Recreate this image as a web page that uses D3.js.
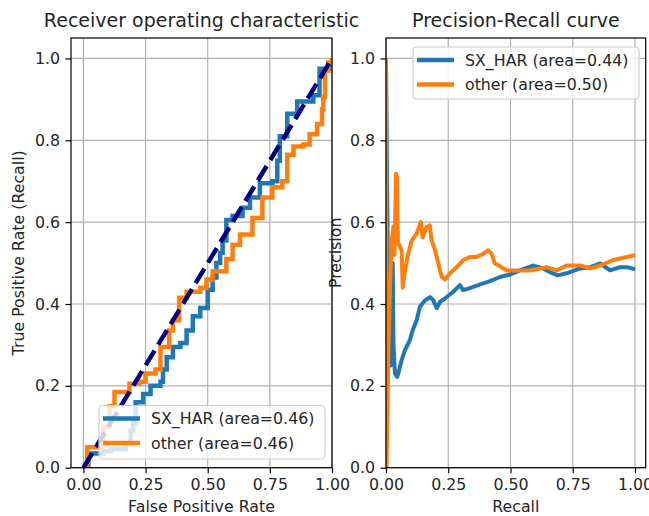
<!DOCTYPE html>
<html><head><meta charset="utf-8">
<script src="https://cdn.jsdelivr.net/npm/d3@7"></script>
<style>
html,body{margin:0;padding:0;background:#fff;}
svg text{font-family:"DejaVu Sans",sans-serif;fill:#262626;}
</style></head>
<body>
<svg id="chart" width="649" height="516"></svg>
<script>
// ---------- data ----------
const xTicks = [0, 0.25, 0.5, 0.75, 1.0];
const yTicks = [0, 0.2, 0.4, 0.6, 0.8, 1.0];
const seriesNames = ["SX_HAR", "other"];
const rocAreas = [0.46, 0.46];
const prAreas = [0.44, 0.50];

// ROC SX_HAR (fpr, tpr)
const rocSxFpr = [0,0.02,0.08,0.11,0.17,0.19,0.20,0.21,0.24,0.27,0.31,0.32,0.335,0.36,0.39,0.415,0.44,0.47,0.50,0.52,0.535,0.55,0.56,0.575,0.60,0.64,0.67,0.71,0.76,0.78,0.79,0.82,0.86,0.925,0.95,0.99,1.0];
const rocSxTpr = [0,0.035,0.04,0.045,0.06,0.09,0.11,0.16,0.18,0.20,0.21,0.24,0.27,0.295,0.305,0.335,0.37,0.39,0.435,0.465,0.50,0.525,0.555,0.605,0.615,0.635,0.66,0.695,0.70,0.75,0.81,0.865,0.895,0.91,0.975,0.985,1.0];
// ROC other
const rocOtFpr = [0,0.015,0.05,0.08,0.105,0.125,0.17,0.185,0.225,0.25,0.29,0.31,0.345,0.36,0.385,0.415,0.47,0.495,0.52,0.575,0.60,0.63,0.68,0.72,0.76,0.80,0.82,0.845,0.885,0.91,0.94,0.96,0.965,0.972,0.985,1.0];
const rocOtTpr = [0,0.05,0.05,0.10,0.15,0.185,0.185,0.205,0.21,0.23,0.24,0.295,0.335,0.36,0.415,0.43,0.44,0.46,0.48,0.51,0.545,0.57,0.61,0.66,0.685,0.70,0.765,0.785,0.79,0.815,0.84,0.875,0.905,0.97,0.99,1.0];
// chance line
const chanceX = [0, 1];
const chanceY = [0, 1];

// PR SX_HAR (recall, precision)
const prSxRec = [0,0.01,0.014,0.02,0.025,0.027,0.03,0.036,0.045,0.05,0.063,0.076,0.096,0.107,0.123,0.136,0.157,0.177,0.19,0.204,0.217,0.244,0.27,0.297,0.31,0.337,0.378,0.418,0.458,0.498,0.538,0.59,0.63,0.658,0.69,0.725,0.78,0.82,0.86,0.9,0.94,0.967,1.0];
const prSxPre = [1,0.33,0.26,0.25,0.28,0.50,0.30,0.23,0.222,0.232,0.263,0.287,0.312,0.336,0.36,0.393,0.409,0.417,0.409,0.39,0.405,0.417,0.43,0.446,0.434,0.439,0.448,0.456,0.466,0.472,0.482,0.494,0.487,0.478,0.47,0.475,0.487,0.49,0.499,0.482,0.49,0.49,0.485];
// PR other
const prOtRec = [0,0.002,0.01,0.016,0.022,0.03,0.034,0.04,0.044,0.048,0.056,0.063,0.067,0.076,0.088,0.103,0.123,0.14,0.147,0.163,0.176,0.183,0.197,0.21,0.224,0.237,0.257,0.284,0.31,0.337,0.364,0.39,0.41,0.424,0.437,0.458,0.485,0.51,0.578,0.645,0.685,0.725,0.78,0.82,0.86,0.91,0.967,1.0];
const prOtPre = [1,0,0.30,0.43,0.55,0.59,0.52,0.718,0.71,0.55,0.54,0.53,0.44,0.48,0.52,0.555,0.572,0.60,0.563,0.588,0.592,0.556,0.531,0.499,0.466,0.46,0.475,0.49,0.507,0.515,0.515,0.523,0.531,0.523,0.499,0.492,0.482,0.482,0.482,0.49,0.482,0.494,0.494,0.487,0.494,0.507,0.515,0.519];

const colors = ["#1f77b4", "#ff7f0e"];

// ---------- layout ----------
const svg = d3.select("#chart");
const fs = 15.8;
const panels = [
  {x0:71, x1:332, xdom:[-0.05,1.0], title:"Receiver operating characteristic", xlabel:"False Positive Rate", ylabel:"True Positive Rate (Recall)", ylabelX:24},
  {x0:386, x1:645.7, xdom:[0,1.043], title:"Precision-Recall curve", xlabel:"Recall", ylabel:"Precision", ylabelX:341}
];
const yTop = 38, yBot = 467.7;

function makePanel(p, idx){
  const g = svg.append("g");
  const x = d3.scaleLinear().domain(p.xdom).range([p.x0, p.x1]);
  const y = d3.scaleLinear().domain([0,1.05]).range([yBot, yTop]);
  // grid
  g.append("g").selectAll("line").data(xTicks).join("line")
    .attr("x1",d=>x(d)).attr("x2",d=>x(d)).attr("y1",yTop).attr("y2",yBot)
    .attr("stroke","#b0b0b0").attr("stroke-width",1.2);
  g.append("g").selectAll("line").data(yTicks).join("line")
    .attr("y1",d=>y(d)).attr("y2",d=>y(d)).attr("x1",p.x0).attr("x2",p.x1)
    .attr("stroke","#b0b0b0").attr("stroke-width",1.2);
  // axes
  const xa = g.append("g").attr("transform",`translate(0,${yBot})`)
    .call(d3.axisBottom(x).tickValues(xTicks).tickFormat(d3.format(".2f")).tickSize(5.5).tickPadding(5.5));
  const ya = g.append("g").attr("transform",`translate(${p.x0},0)`)
    .call(d3.axisLeft(y).tickValues(yTicks).tickFormat(d3.format(".1f")).tickSize(5.5).tickPadding(5.5));
  [xa,ya].forEach(a=>{
    a.select(".domain").remove();
    a.selectAll("line").attr("stroke","#000").attr("stroke-width",1.2);
    a.selectAll("text").attr("font-size",fs).attr("font-family","DejaVu Sans").attr("fill","#262626");
  });
  // clip
  const cid = "clip"+idx;
  svg.append("clipPath").attr("id",cid).append("rect")
    .attr("x",p.x0).attr("y",yTop).attr("width",p.x1-p.x0).attr("height",yBot-yTop);
  const plot = g.append("g").attr("clip-path",`url(#${cid})`);
  // title & labels
  g.append("text").attr("x",(p.x0+p.x1)/2).attr("y",27).attr("text-anchor","middle")
    .attr("font-size",19).text(p.title);
  g.append("text").attr("x",(p.x0+p.x1)/2).attr("y",512).attr("text-anchor","middle")
    .attr("font-size",fs).text(p.xlabel);
  g.append("text").attr("transform",`translate(${p.ylabelX},${(yTop+yBot)/2}) rotate(-90)`)
    .attr("text-anchor","middle").attr("font-size",fs).text(p.ylabel);
  return {g, x, y, plot};
}

const A = makePanel(panels[0],0);
const B = makePanel(panels[1],1);

function zipXY(xs, ys){ return xs.map((v,i)=>[v, ys[i]]); }

// ROC curves
const rocLine = d3.line().x(d=>A.x(d[0])).y(d=>A.y(d[1])).curve(d3.curveStepAfter);
[[rocSxFpr,rocSxTpr],[rocOtFpr,rocOtTpr]].forEach((s,i)=>{
  A.plot.append("path").datum(zipXY(s[0],s[1])).attr("d",rocLine)
    .attr("fill","none").attr("stroke",colors[i]).attr("stroke-width",4.5).attr("stroke-linejoin","miter");
});
A.plot.append("path").datum(zipXY(chanceX,chanceY))
  .attr("d",d3.line().x(d=>A.x(d[0])).y(d=>A.y(d[1])))
  .attr("fill","none").attr("stroke","#000080").attr("stroke-width",4.5).attr("stroke-dasharray","17,7");

// PR curves
const prLine = d3.line().x(d=>B.x(d[0])).y(d=>B.y(d[1]));
[[prSxRec,prSxPre],[prOtRec,prOtPre]].forEach((s,i)=>{
  B.plot.append("path").datum(zipXY(s[0],s[1])).attr("d",prLine)
    .attr("fill","none").attr("stroke",colors[i]).attr("stroke-width",4).attr("stroke-linejoin","round");
});

// spines
[[panels[0]],[panels[1]]].forEach(([p])=>{
  svg.append("rect").attr("x",p.x0).attr("y",yTop).attr("width",p.x1-p.x0).attr("height",yBot-yTop)
    .attr("fill","none").attr("stroke","#000").attr("stroke-width",1.2);
});

// legends
function legend(bx0, by0, bx1, by1, areas){
  const lg = svg.append("g");
  lg.append("rect").attr("x",bx0).attr("y",by0).attr("width",bx1-bx0).attr("height",by1-by0)
    .attr("rx",4).attr("fill","#fff").attr("fill-opacity",0.8).attr("stroke","#cccccc").attr("stroke-width",1.2);
  seriesNames.forEach((n,i)=>{
    const yy = by0 + 13 + i*24.5;
    lg.append("line").attr("x1",bx0+4).attr("x2",bx0+41).attr("y1",yy).attr("y2",yy)
      .attr("stroke",colors[i]).attr("stroke-width",4.5);
    lg.append("text").attr("x",bx0+52).attr("y",yy).attr("dy","0.36em").attr("font-size",fs)
      .text(`${n} (area=${areas[i].toFixed(2)})`);
  });
}
legend(99, 405.5, 325, 459, rocAreas);
legend(413, 47, 639, 99, prAreas);
</script>
</body></html>
